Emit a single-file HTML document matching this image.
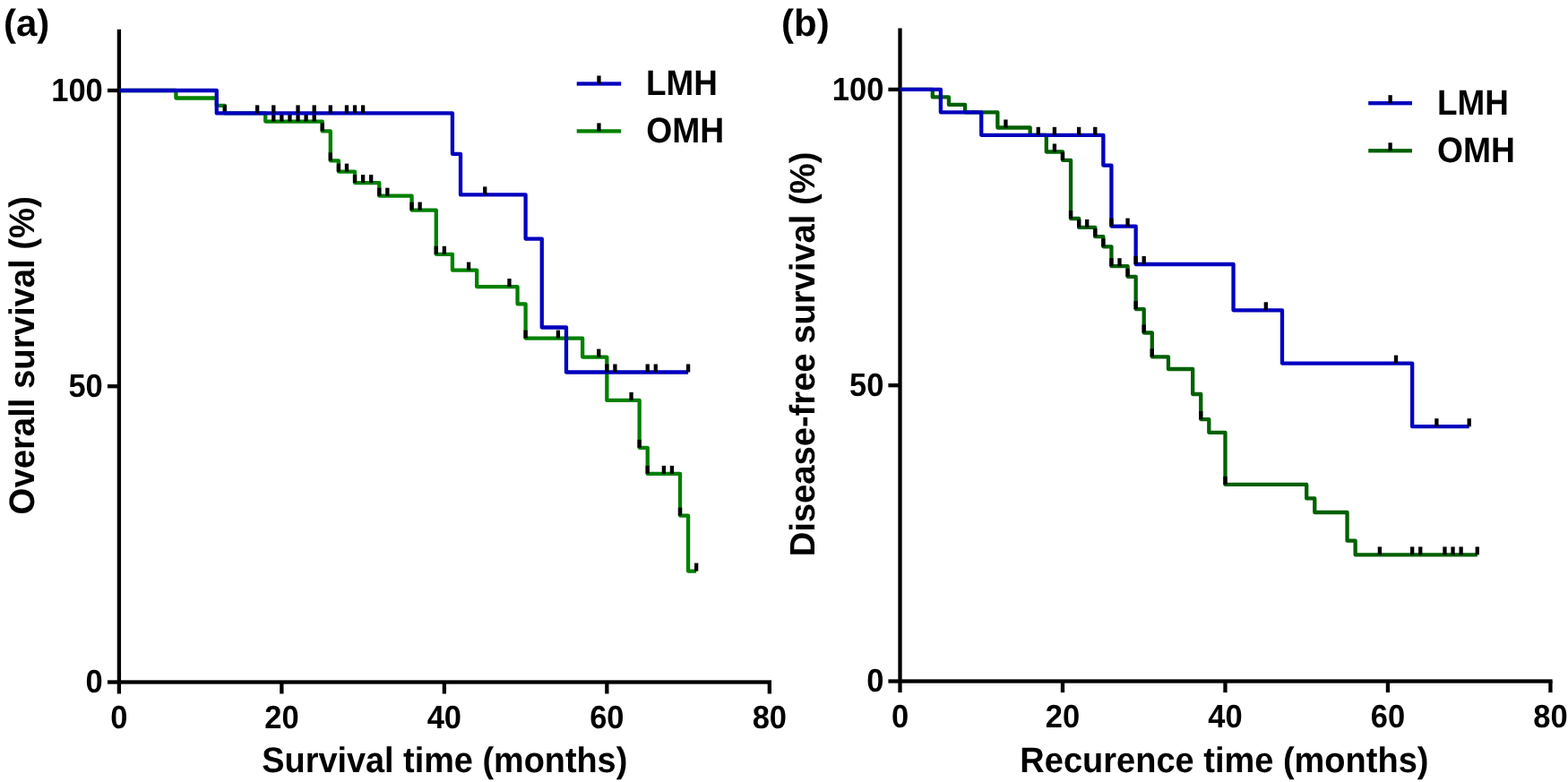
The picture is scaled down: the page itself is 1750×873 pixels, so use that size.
<!DOCTYPE html>
<html lang="en">
<head>
<meta charset="utf-8">
<title>Kaplan-Meier survival curves: LMH vs OMH</title>
<style>
html,body{margin:0;padding:0;background:#fff;}
body{width:1750px;height:873px;overflow:hidden;}
svg{display:block;}
text{font-family:"Liberation Sans",Arial,Helvetica,sans-serif;font-weight:bold;fill:#000;text-rendering:geometricPrecision;}
.tk{font-size:34.5px;}
.tt{font-size:38px;}
.lg{font-size:38px;}
.pl{font-size:42px;}
</style>
</head>
<body>
<svg width="1750" height="873" viewBox="0 0 1750 873"><g fill="#000"><rect x="130.75" y="32.8" width="4.3" height="741.7"/><rect x="120" y="759.35" width="741" height="4.3"/><rect x="120" y="98.85" width="12.9" height="4.3"/><rect x="120" y="429.1" width="12.9" height="4.3"/><rect x="312.23" y="761.5" width="4.3" height="13"/><rect x="493.71" y="761.5" width="4.3" height="13"/><rect x="675.19" y="761.5" width="4.3" height="13"/><rect x="856.67" y="761.5" width="4.3" height="13"/></g>
<path d="M132.9 101H196.42V109.5H241.79V117.8H250.86V126.3H296.23V135.6H359.75V146.4H368.82V179.3H377.9V191.6H396.05V204.1H423.27V218.7H459.56V234.6H486.79V283.8H504.93V301.6H532.16V320.1H577.53V339.3H586.6V377.6H650.12V398.6H677.34V446.9H713.64V499.8H722.71V528.9H759.01V575.6H768.08V637.6H777.15" fill="none" stroke="#008000" stroke-width="4.3" stroke-linejoin="round" stroke-linecap="butt"/>
<g fill="#000"><rect x="248.71" y="117.3" width="4.3" height="9"/><rect x="303.16" y="126.6" width="4.3" height="9"/><rect x="312.23" y="126.6" width="4.3" height="9"/><rect x="321.3" y="126.6" width="4.3" height="9"/><rect x="330.38" y="126.6" width="4.3" height="9"/><rect x="339.45" y="126.6" width="4.3" height="9"/><rect x="348.53" y="126.6" width="4.3" height="9"/><rect x="357.6" y="137.4" width="4.3" height="9"/><rect x="366.67" y="170.3" width="4.3" height="9"/><rect x="375.75" y="182.6" width="4.3" height="9"/><rect x="384.82" y="182.6" width="4.3" height="9"/><rect x="393.9" y="195.1" width="4.3" height="9"/><rect x="402.97" y="195.1" width="4.3" height="9"/><rect x="412.04" y="195.1" width="4.3" height="9"/><rect x="421.12" y="209.7" width="4.3" height="9"/><rect x="430.19" y="209.7" width="4.3" height="9"/><rect x="457.41" y="225.6" width="4.3" height="9"/><rect x="466.49" y="225.6" width="4.3" height="9"/><rect x="484.64" y="274.8" width="4.3" height="9"/><rect x="493.71" y="274.8" width="4.3" height="9"/><rect x="520.93" y="292.6" width="4.3" height="9"/><rect x="566.3" y="311.1" width="4.3" height="9"/><rect x="584.45" y="368.6" width="4.3" height="9"/><rect x="620.75" y="368.6" width="4.3" height="9"/><rect x="666.12" y="389.6" width="4.3" height="9"/><rect x="702.41" y="437.9" width="4.3" height="9"/><rect x="711.49" y="490.8" width="4.3" height="9"/><rect x="720.56" y="519.9" width="4.3" height="9"/><rect x="738.71" y="519.9" width="4.3" height="9"/><rect x="747.78" y="519.9" width="4.3" height="9"/><rect x="756.86" y="566.6" width="4.3" height="9"/><rect x="775" y="628.6" width="4.3" height="9"/></g>
<path d="M132.9 101H241.79V126.4H504.93V171.8H514.01V217.4H586.6V266.6H604.75V365.5H631.97V415.5H768.08" fill="none" stroke="#0000be" stroke-width="4.3" stroke-linejoin="round" stroke-linecap="butt"/>
<g fill="#000"><rect x="285.01" y="117.4" width="4.3" height="9"/><rect x="303.16" y="117.4" width="4.3" height="9"/><rect x="330.38" y="117.4" width="4.3" height="9"/><rect x="348.53" y="117.4" width="4.3" height="9"/><rect x="366.67" y="117.4" width="4.3" height="9"/><rect x="384.82" y="117.4" width="4.3" height="9"/><rect x="393.9" y="117.4" width="4.3" height="9"/><rect x="402.97" y="117.4" width="4.3" height="9"/><rect x="539.08" y="208.4" width="4.3" height="9"/><rect x="675.19" y="406.5" width="4.3" height="9"/><rect x="684.26" y="406.5" width="4.3" height="9"/><rect x="720.56" y="406.5" width="4.3" height="9"/><rect x="729.63" y="406.5" width="4.3" height="9"/><rect x="765.93" y="406.5" width="4.3" height="9"/></g>
<text transform="translate(114.8 773.1) scale(1 1.05)" text-anchor="end" class="tk">0</text><text transform="translate(114.8 442.85) scale(1 1.05)" text-anchor="end" class="tk">50</text><text transform="translate(114.8 112.6) scale(1 1.05)" text-anchor="end" class="tk">100</text>
<text transform="translate(132.9 812.9) scale(1 1.05)" text-anchor="middle" class="tk">0</text><text transform="translate(314.38 812.9) scale(1 1.05)" text-anchor="middle" class="tk">20</text><text transform="translate(495.86 812.9) scale(1 1.05)" text-anchor="middle" class="tk">40</text><text transform="translate(677.34 812.9) scale(1 1.05)" text-anchor="middle" class="tk">60</text><text transform="translate(858.82 812.9) scale(1 1.05)" text-anchor="middle" class="tk">80</text>
<rect x="643.7" y="91.35" width="49.5" height="4.3" fill="#0000be"/><rect x="666.3" y="84.5" width="4.3" height="9" fill="#000"/><text transform="translate(721 105.9) scale(1 1.045)" class="lg" textLength="79.85" lengthAdjust="spacingAndGlyphs">LMH</text><rect x="643.7" y="144.25" width="49.5" height="4.3" fill="#008000"/><rect x="666.3" y="137.4" width="4.3" height="9" fill="#000"/><text transform="translate(721.2 158.8) scale(1 1.045)" class="lg" textLength="86.9" lengthAdjust="spacingAndGlyphs">OMH</text>
<text x="3.9" y="39.75" class="pl">(a)</text>
<text transform="translate(496.3 862.15) scale(1 1.047)" text-anchor="middle" class="tt" textLength="407.9" lengthAdjust="spacingAndGlyphs">Survival time (months)</text>
<text transform="translate(38.1 396.75) rotate(-90) scale(1 1.044)" text-anchor="middle" class="tt" textLength="355.3" lengthAdjust="spacingAndGlyphs">Overall survival (%)</text>
<g fill="#000"><rect x="1002.35" y="31.5" width="4.3" height="741.6"/><rect x="991.4" y="758.35" width="741.2" height="4.3"/><rect x="991.4" y="97.75" width="13.1" height="4.3"/><rect x="991.4" y="428.05" width="13.1" height="4.3"/><rect x="1183.83" y="760.5" width="4.3" height="12.6"/><rect x="1365.31" y="760.5" width="4.3" height="12.6"/><rect x="1546.79" y="760.5" width="4.3" height="12.6"/><rect x="1728.27" y="760.5" width="4.3" height="12.6"/></g>
<path d="M1004.5 99.9H1040.8V108.4H1058.94V116.9H1077.09V125.3H1113.39V142.5H1149.68V150.9H1167.83V169.5H1185.98V178.8H1195.05V244H1204.13V253.9H1222.28V264.2H1231.35V275.3H1240.42V297.2H1258.57V308.8H1267.65V345.1H1276.72V371.5H1285.79V398.3H1303.94V412H1331.16V440H1340.24V468.1H1349.31V482.8H1367.46V540.9H1458.2V556.4H1467.27V572H1503.57V603.7H1512.64V619.4H1648.75" fill="none" stroke="#006000" stroke-width="4.3" stroke-linejoin="round" stroke-linecap="butt"/>
<g fill="#000"><rect x="1120.31" y="133.5" width="4.3" height="9"/><rect x="1174.76" y="160.5" width="4.3" height="9"/><rect x="1183.83" y="169.8" width="4.3" height="9"/><rect x="1192.9" y="235" width="4.3" height="9"/><rect x="1201.98" y="244.9" width="4.3" height="9"/><rect x="1211.05" y="244.9" width="4.3" height="9"/><rect x="1220.13" y="255.2" width="4.3" height="9"/><rect x="1229.2" y="266.3" width="4.3" height="9"/><rect x="1238.27" y="288.2" width="4.3" height="9"/><rect x="1247.35" y="288.2" width="4.3" height="9"/><rect x="1256.42" y="299.8" width="4.3" height="9"/><rect x="1265.5" y="336.1" width="4.3" height="9"/><rect x="1274.57" y="362.5" width="4.3" height="9"/><rect x="1283.64" y="389.3" width="4.3" height="9"/><rect x="1338.09" y="459.1" width="4.3" height="9"/><rect x="1365.31" y="531.9" width="4.3" height="9"/><rect x="1537.72" y="610.4" width="4.3" height="9"/><rect x="1574.01" y="610.4" width="4.3" height="9"/><rect x="1583.09" y="610.4" width="4.3" height="9"/><rect x="1610.31" y="610.4" width="4.3" height="9"/><rect x="1619.38" y="610.4" width="4.3" height="9"/><rect x="1628.46" y="610.4" width="4.3" height="9"/><rect x="1646.6" y="610.4" width="4.3" height="9"/></g>
<path d="M1004.5 99.9H1049.87V125.3H1095.24V150.8H1231.35V184.6H1240.42V252.6H1267.65V295H1376.53V346.3H1430.98V405.6H1576.16V476.2H1639.68" fill="none" stroke="#0000be" stroke-width="4.3" stroke-linejoin="round" stroke-linecap="butt"/>
<g fill="#000"><rect x="1156.61" y="141.8" width="4.3" height="9"/><rect x="1174.76" y="141.8" width="4.3" height="9"/><rect x="1201.98" y="141.8" width="4.3" height="9"/><rect x="1220.13" y="141.8" width="4.3" height="9"/><rect x="1238.27" y="243.6" width="4.3" height="9"/><rect x="1256.42" y="243.6" width="4.3" height="9"/><rect x="1265.5" y="286" width="4.3" height="9"/><rect x="1274.57" y="286" width="4.3" height="9"/><rect x="1410.68" y="337.3" width="4.3" height="9"/><rect x="1555.86" y="396.6" width="4.3" height="9"/><rect x="1601.23" y="467.2" width="4.3" height="9"/><rect x="1637.53" y="467.2" width="4.3" height="9"/></g>
<text transform="translate(986.4 772.1) scale(1 1.05)" text-anchor="end" class="tk">0</text><text transform="translate(986.4 441.8) scale(1 1.05)" text-anchor="end" class="tk">50</text><text transform="translate(986.4 111.5) scale(1 1.05)" text-anchor="end" class="tk">100</text>
<text transform="translate(1004.5 812.1) scale(1 1.05)" text-anchor="middle" class="tk">0</text><text transform="translate(1185.98 812.1) scale(1 1.05)" text-anchor="middle" class="tk">20</text><text transform="translate(1367.46 812.1) scale(1 1.05)" text-anchor="middle" class="tk">40</text><text transform="translate(1548.94 812.1) scale(1 1.05)" text-anchor="middle" class="tk">60</text><text transform="translate(1730.42 812.1) scale(1 1.05)" text-anchor="middle" class="tk">80</text>
<rect x="1527.2" y="113.05" width="48.8" height="4.3" fill="#0000be"/><rect x="1549.45" y="106.2" width="4.3" height="9" fill="#000"/><text transform="translate(1604.1 127.8) scale(1 1.045)" class="lg" textLength="79.85" lengthAdjust="spacingAndGlyphs">LMH</text><rect x="1527.2" y="166.15" width="48.8" height="4.3" fill="#006000"/><rect x="1549.45" y="159.3" width="4.3" height="9" fill="#000"/><text transform="translate(1604.1 180.8) scale(1 1.045)" class="lg" textLength="86.9" lengthAdjust="spacingAndGlyphs">OMH</text>
<text x="872.0" y="39.75" class="pl">(b)</text>
<text transform="translate(1366.4 862.0) scale(1 1.045)" text-anchor="middle" class="tt">Recurence time (months)</text>
<text transform="translate(908.6 395.5) rotate(-90) scale(1 1.034)" text-anchor="middle" class="tt" textLength="451.7" lengthAdjust="spacingAndGlyphs">Disease-free survival (%)</text></svg>
</body>
</html>
